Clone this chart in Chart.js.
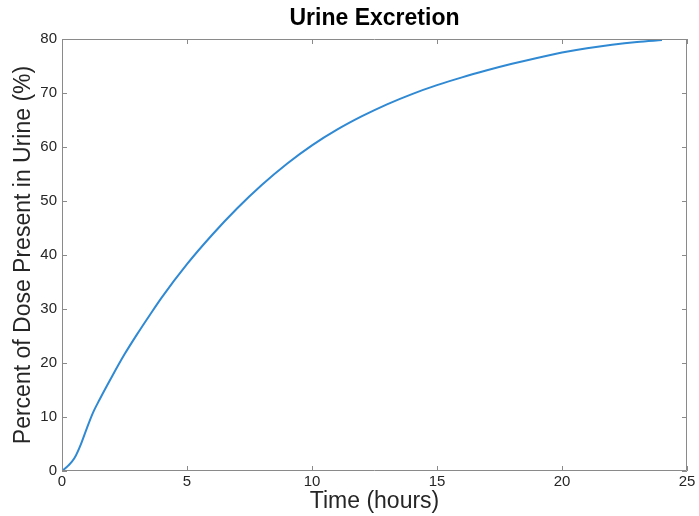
<!DOCTYPE html>
<html>
<head>
<meta charset="utf-8">
<script src="https://cdn.jsdelivr.net/npm/chart.js@4/dist/chart.umd.min.js"></script>
<style>
    html, body { margin: 0; padding: 0; background: #ffffff; }
    #wrap { width: 699px; height: 516px; }
</style>
</head>
<body>
<div id="wrap"><canvas id="chart" width="699" height="516"></canvas></div>
<script>
const timeHours = [0, 0.25, 0.5, 0.75, 1, 1.25, 1.5, 2, 2.5, 3, 3.5, 4, 5, 6, 7, 8, 9, 10, 11, 12, 13, 14, 15, 16, 17, 18, 19, 20, 21, 22, 23, 24];
const percentExcreted = [0, 1.0, 2.4, 4.9, 8.0, 10.9, 13.2, 17.5, 21.6, 25.3, 28.8, 32.2, 38.3, 43.7, 48.6, 53.0, 56.9, 60.3, 63.2, 65.7, 67.9, 69.8, 71.45, 72.9, 74.2, 75.4, 76.5, 77.5, 78.3, 78.95, 79.45, 79.8];
const xTicks = [0, 5, 10, 15, 20, 25];
const yTicks = [0, 10, 20, 30, 40, 50, 60, 70, 80];

const palette = {
    line: '#3089d3',
    axis: '#8a8a8a',
    ink: '#262626',
    title: '#000000'
};

const fontFamily = '"Liberation Sans", Arial, Helvetica, sans-serif';

// box round the plot with MATLAB-style inward ticks on all four sides
const boxTicks = {
    id: 'boxTicks',
    afterDatasetsDraw(chart) {
        const { ctx, chartArea, scales } = chart;
        const len = 5;
        ctx.save();
        ctx.strokeStyle = palette.axis;
        ctx.lineWidth = 1;
        ctx.beginPath();
        ctx.rect(chartArea.left + 0.5, chartArea.top + 0.5, chartArea.right - chartArea.left - 1, chartArea.bottom - chartArea.top - 1);
        xTicks.forEach((v) => {
            const x = Math.round(scales.x.getPixelForValue(v)) + 0.5;
            ctx.moveTo(x, chartArea.bottom);
            ctx.lineTo(x, chartArea.bottom - len);
            ctx.moveTo(x, chartArea.top);
            ctx.lineTo(x, chartArea.top + len);
        });
        yTicks.forEach((v) => {
            const y = Math.round(scales.y.getPixelForValue(v)) + 0.5;
            ctx.moveTo(chartArea.left, y);
            ctx.lineTo(chartArea.left + len, y);
            ctx.moveTo(chartArea.right, y);
            ctx.lineTo(chartArea.right - len, y);
        });
        ctx.stroke();
        ctx.restore();
    }
};

new Chart(document.getElementById('chart'), {
    type: 'line',
    data: {
        datasets: [{
            data: timeHours.map((t, i) => ({ x: t, y: percentExcreted[i] })),
            borderColor: palette.line,
            borderWidth: 2,
            pointRadius: 0,
            fill: false,
            cubicInterpolationMode: 'monotone'
        }]
    },
    options: {
        responsive: false,
        animation: false,
        layout: { padding: { left: 0, right: 12, top: 0, bottom: 0 } },
        plugins: {
            legend: { display: false },
            tooltip: { enabled: false },
            title: {
                display: true,
                fullSize: false,
                text: 'Urine Excretion',
                color: palette.title,
                font: { family: fontFamily, size: 23, weight: 'bold', lineHeight: 1.2 },
                padding: { top: 5, bottom: 6.4 }
            }
        },
        scales: {
            x: {
                type: 'linear',
                min: 0,
                max: 25,
                grid: { display: false, drawTicks: false },
                border: { display: false },
                afterFit: (scale) => { scale.height = 45; },
                afterBuildTicks: (scale) => { scale.ticks = xTicks.map((v) => ({ value: v })); },
                ticks: {
                    color: palette.ink,
                    padding: 2,
                    maxRotation: 0,
                    font: { family: fontFamily, size: 15 }
                },
                title: {
                    display: true,
                    text: 'Time (hours)',
                    color: palette.ink,
                    font: { family: fontFamily, size: 23, lineHeight: 1.2 },
                    padding: { top: 0, bottom: 1 }
                }
            },
            y: {
                min: 0,
                max: 80,
                grid: { display: false, drawTicks: false },
                border: { display: false },
                afterFit: (scale) => { scale.width = 62; },
                afterBuildTicks: (scale) => { scale.ticks = yTicks.map((v) => ({ value: v })); },
                ticks: {
                    color: palette.ink,
                    padding: 5,
                    font: { family: fontFamily, size: 15 }
                },
                title: {
                    display: true,
                    text: 'Percent of Dose Present in Urine (%)',
                    color: palette.ink,
                    font: { family: fontFamily, size: 23, lineHeight: 1.2 },
                    padding: { top: 10, bottom: 0 }
                }
            }
        }
    },
    plugins: [boxTicks]
});
</script>
</body>
</html>
